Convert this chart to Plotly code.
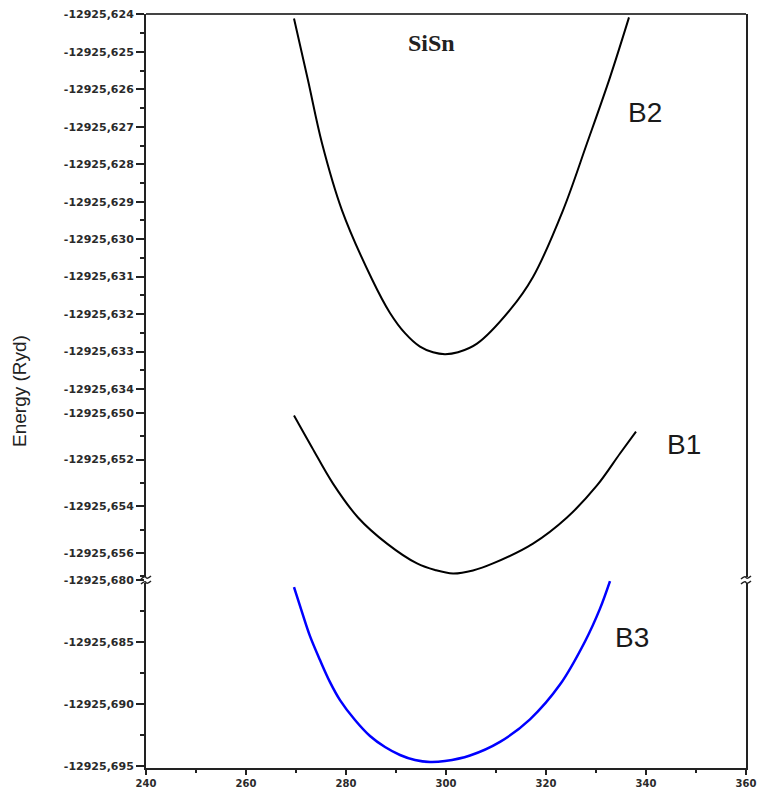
import plotly.graph_objects as go

# ---- data ----
b2_x = [269.6, 272.4, 275.2, 279.2, 285.2, 288.8, 291.8, 294.8, 297.4, 299.8,
        302.4, 306.2, 312.8, 317.4, 323.4, 328.2, 332.8, 336.6]
b2_e = [-12925.62411, -12925.62576, -12925.62744, -12925.62923, -12925.63107, -12925.63197,
        -12925.63251, -12925.63287, -12925.63302, -12925.63307,
        -12925.63302, -12925.63279, -12925.63189, -12925.63101, -12925.62923, -12925.62744,
        -12925.62568, -12925.62408]

b1_x = [269.6, 273.2, 277.4, 282.4, 288.2, 294.2, 297.8, 301.4, 305.4, 309.4, 317.4, 324.2,
        330.2, 334.8, 338.0]
b1_e = [-12925.65011, -12925.65148, -12925.65303, -12925.65448, -12925.65560, -12925.65645,
        -12925.65673, -12925.65688, -12925.65675, -12925.65645, -12925.65560, -12925.65448,
        -12925.65311, -12925.65174, -12925.65080]

b3_x = [269.6, 271.2, 272.8, 274.8, 276.8, 278.8, 281.8, 284.8, 287.8, 290.8, 293.8, 296.8,
        299.8, 304.8, 310.8, 316.8, 322.8, 327.8, 330.8, 332.8]
b3_e = [-12925.68056, -12925.68258, -12925.68452, -12925.68645, -12925.68823, -12925.68968,
        -12925.69129, -12925.69258, -12925.69347, -12925.69411, -12925.69452, -12925.69468,
        -12925.69460, -12925.69415, -12925.69305, -12925.69123, -12925.68843, -12925.68495,
        -12925.68230, -12925.68008]

top_ticks = [-12925.624, -12925.625, -12925.626, -12925.627, -12925.628, -12925.629,
             -12925.630, -12925.631, -12925.632, -12925.633, -12925.634]
top_labels = ["-12925,624", "-12925,625", "-12925,626", "-12925,627", "-12925,628", "-12925,629",
              "-12925,630", "-12925,631", "-12925,632", "-12925,633", "-12925,634"]
mid_ticks = [-12925.650, -12925.652, -12925.654, -12925.656]
mid_labels = ["-12925,650", "-12925,652", "-12925,654", "-12925,656"]
bot_ticks = [-12925.680, -12925.685, -12925.690, -12925.695]
bot_labels = ["-12925,680", "-12925,685", "-12925,690", "-12925,695"]
x_ticks = [240, 260, 280, 300, 320, 340, 360]

W, H = 757, 793
L, R, T, B = 146, 11, 14, 25
PW, PH = W - L - R, H - T - B

def py(p):  # pixel y -> paper
    return (H - B - p) / PH

def px(p):  # pixel x -> paper
    return (p - L) / PW

d_bot = [0, py(580)]
d_mid = [py(580), py(401)]
d_top = [py(401), 1]

fig = go.Figure()
fig.add_trace(go.Scatter(x=b2_x, y=b2_e, mode="lines", yaxis="y3",
                         line=dict(color="black", width=2, shape="spline", smoothing=1.0),
                         showlegend=False))
fig.add_trace(go.Scatter(x=b1_x, y=b1_e, mode="lines", yaxis="y2",
                         line=dict(color="black", width=2, shape="spline", smoothing=1.0),
                         showlegend=False))
fig.add_trace(go.Scatter(x=b3_x, y=b3_e, mode="lines", yaxis="y",
                         line=dict(color="#0000ff", width=2.5, shape="spline", smoothing=1.0),
                         showlegend=False))

tickfont = dict(family="DejaVu Sans", size=11, color="#2a2a2a", weight="bold")
common_y = dict(showline=True, linecolor="#222222", linewidth=2, mirror=True,
                ticks="outside", ticklen=8, tickwidth=1.5, tickcolor="#222222",
                showgrid=False, zeroline=False, tickmode="array", tickfont=tickfont,
                anchor="x", automargin=False)

fig.update_layout(
    width=W, height=H,
    margin=dict(l=L, r=R, t=T, b=B, autoexpand=False),
    plot_bgcolor="white", paper_bgcolor="white",
    showlegend=False,
    xaxis=dict(range=[240, 360], tickvals=x_ticks, ticktext=[str(v) for v in x_ticks],
               showline=True, linecolor="#222222", linewidth=2, ticks="outside",
               ticklen=5, tickwidth=1.5, tickcolor="#222222", showgrid=False, zeroline=False,
               tickfont=dict(family="DejaVu Sans", size=10, color="#2a2a2a", weight="bold"),
               anchor="y", automargin=False,
               minor=dict(tickmode="linear", tick0=250, dtick=20, ticks="outside",
                          ticklen=3, tickwidth=1.5, tickcolor="#222222")),
    yaxis=dict(domain=d_bot, range=[-12925.69516, -12925.67999],
               tickvals=bot_ticks, ticktext=bot_labels,
               minor=dict(tickmode="linear", tick0=-12925.6825, dtick=0.005, ticks="outside",
                          ticklen=4, tickwidth=1.5, tickcolor="#222222"),
               **common_y),
    yaxis2=dict(domain=d_mid, range=[-12925.65716, -12925.64949],
                tickvals=mid_ticks, ticktext=mid_labels,
                minor=dict(tickmode="linear", tick0=-12925.651, dtick=0.002, ticks="outside",
                           ticklen=4, tickwidth=1.5, tickcolor="#222222"),
                **common_y),
    yaxis3=dict(domain=d_top, range=[-12925.63432, -12925.62399],
                tickvals=top_ticks, ticktext=top_labels,
                minor=dict(tickmode="linear", tick0=-12925.6245, dtick=0.001, ticks="outside",
                           ticklen=4, tickwidth=1.5, tickcolor="#222222"),
                **common_y),
)

# top border
fig.add_shape(type="line", xref="paper", yref="paper", x0=0, x1=1, y0=1, y1=1,
              line=dict(color="#444444", width=2))

# axis break marks
yb = py(580)
for xb in (0, 1):
    fig.add_shape(type="rect", xref="paper", yref="paper",
                  x0=xb - 2 / PW, x1=xb + 2 / PW, y0=yb - 3 / PH, y1=yb + 3 / PH,
                  line=dict(width=0), fillcolor="white")
    for off in (-2.5, 2.5):
        fig.add_shape(type="path", xref="paper", yref="paper",
                      path=(f"M {xb - 5 / PW},{yb + (off - 1.5) / PH} "
                            f"Q {xb - 1 / PW},{yb + (off + 2) / PH} {xb},{yb + off / PH} "
                            f"T {xb + 5 / PW},{yb + (off + 1.5) / PH}"),
                      line=dict(color="#222222", width=1.5))

# text annotations
fig.add_annotation(text="Energy (Ryd)", xref="paper", yref="paper",
                   x=px(19), y=py(391), textangle=-90, showarrow=False,
                   font=dict(family="Liberation Sans", size=19, color="#222222"),
                   xanchor="center", yanchor="middle")
fig.add_annotation(text="<b>SiSn</b>", xref="paper", yref="paper",
                   x=px(431), y=py(43), showarrow=False,
                   font=dict(family="Liberation Serif", size=24, color="#222222"),
                   xanchor="center", yanchor="middle")
for txt, cx, cy in (("B2", 645, 112), ("B1", 684, 444), ("B3", 632, 637)):
    fig.add_annotation(text=txt, xref="paper", yref="paper", x=px(cx), y=py(cy),
                       showarrow=False, xanchor="center", yanchor="middle",
                       font=dict(family="Liberation Sans", size=28, color="#1a1a1a"))

fig.write_html("out.html")
